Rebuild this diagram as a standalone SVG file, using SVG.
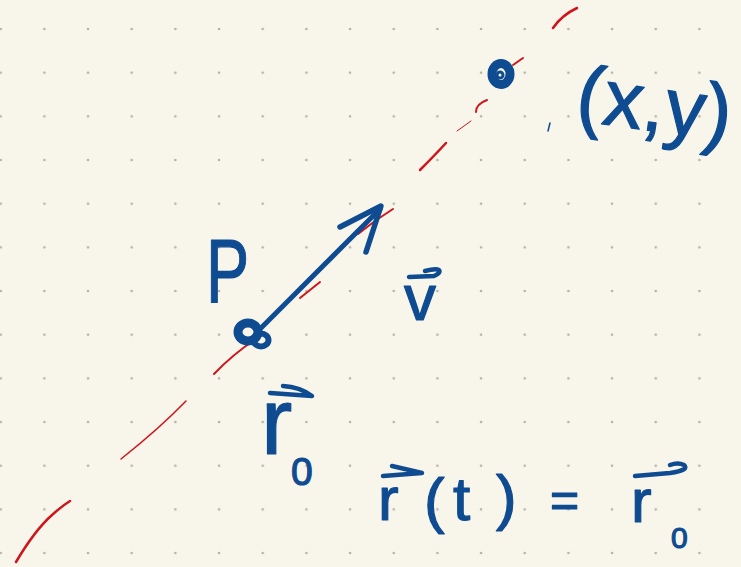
<svg xmlns="http://www.w3.org/2000/svg" width="741" height="567" viewBox="0 0 741 567">
<style>
.ink{fill:none;stroke:#0f4b91;stroke-linecap:round;stroke-linejoin:round}
.red{fill:none;stroke:#d0141c;stroke-linecap:round}
.t{font-family:"Liberation Sans",Arial,sans-serif;fill:#0f4b91;stroke:#0f4b91;stroke-width:1.2;stroke-linejoin:round}
</style>
<defs>
<pattern id="dots" patternUnits="userSpaceOnUse" x="-21.13" y="7.17" width="43.67" height="43.67">
<circle cx="21.835" cy="21.835" r="1.3" fill="#b3b1a8"/>
</pattern>
</defs>
<rect width="741" height="567" fill="#f8f6eb"/>
<rect width="741" height="567" fill="url(#dots)"/>
<g id="line">
<path class="red" stroke-width="2.5" d="M16,562 Q35,530 52,515 Q62,506 70,501"/>
<path class="red" stroke-width="1.5" d="M121,459 Q160,428 186,401"/>
<path class="red" stroke-width="2" d="M214,374 Q235,352 262,335"/>
<path class="red" stroke-width="2" d="M300,298 L320,282"/>
<path class="red" stroke-width="2" d="M358,234 Q375,220 393,209"/>
<path class="red" stroke-width="2.5" d="M420,170 Q435,155 446,143"/>
<path class="red" stroke-width="1" d="M457,131 L471,121"/>
<path class="red" stroke-width="2" d="M476,112 Q476,104 487,100"/>
<path class="red" stroke-width="2" d="M513,65 L523,58"/>
<path class="red" stroke-width="2.5" d="M553,28 Q562,15 577,8"/>
</g>
<g id="P-point">
<ellipse class="ink" cx="248" cy="332" rx="10" ry="9" stroke-width="9"/>
<ellipse class="ink" cx="261" cy="340" rx="7.5" ry="6.5" stroke-width="6"/>
</g>
<g id="vector-v">
<path class="ink" stroke-width="5" d="M258,331 L380,209"/>
<path class="ink" stroke-width="5.5" d="M340,227 L381,206 L366,252"/>
</g>
<g id="xy-point">
<ellipse class="ink" cx="501" cy="74" rx="9" ry="10.5" stroke-width="9"/>
<ellipse class="ink" cx="500" cy="75" rx="3" ry="3" stroke-width="3"/>
<path class="ink" stroke-width="1.5" d="M550,123 L548,131"/>
</g>
<g id="labels">
<text class="t" font-size="90" transform="translate(206,302) scale(0.72,1)">P</text>
<text class="t" font-size="64" x="404" y="320">v</text>
<path class="ink" stroke-width="4.5" d="M409,277 L434,276 Q441,273 439,270 Q436,268 425,271"/>
<text class="t" font-size="80" x="574" y="120" transform="rotate(8 574 120)">(x,y)</text>
<text class="t" font-size="94" x="261" y="454">r</text>
<text class="t" font-size="39" x="291" y="485">0</text>
<path class="ink" stroke-width="4.5" d="M270,393 L312,396 Q300,387 283,386"/>
<text class="t" font-size="62"><tspan x="378" y="520">r</tspan><tspan x="424" y="521">(</tspan><tspan x="453" y="520">t</tspan><tspan x="496" y="518">)</tspan><tspan x="550" y="517" font-size="50">=</tspan><tspan x="631" y="522">r</tspan><tspan x="671" y="548" font-size="30">0</tspan></text>
<path class="ink" stroke-width="4.5" d="M383,476 L422,473 L392,466"/>
<path class="ink" stroke-width="4.5" d="M635,476 L670,473 Q690,470 684,465 Q678,462 670,465"/>
</g>
</svg>
